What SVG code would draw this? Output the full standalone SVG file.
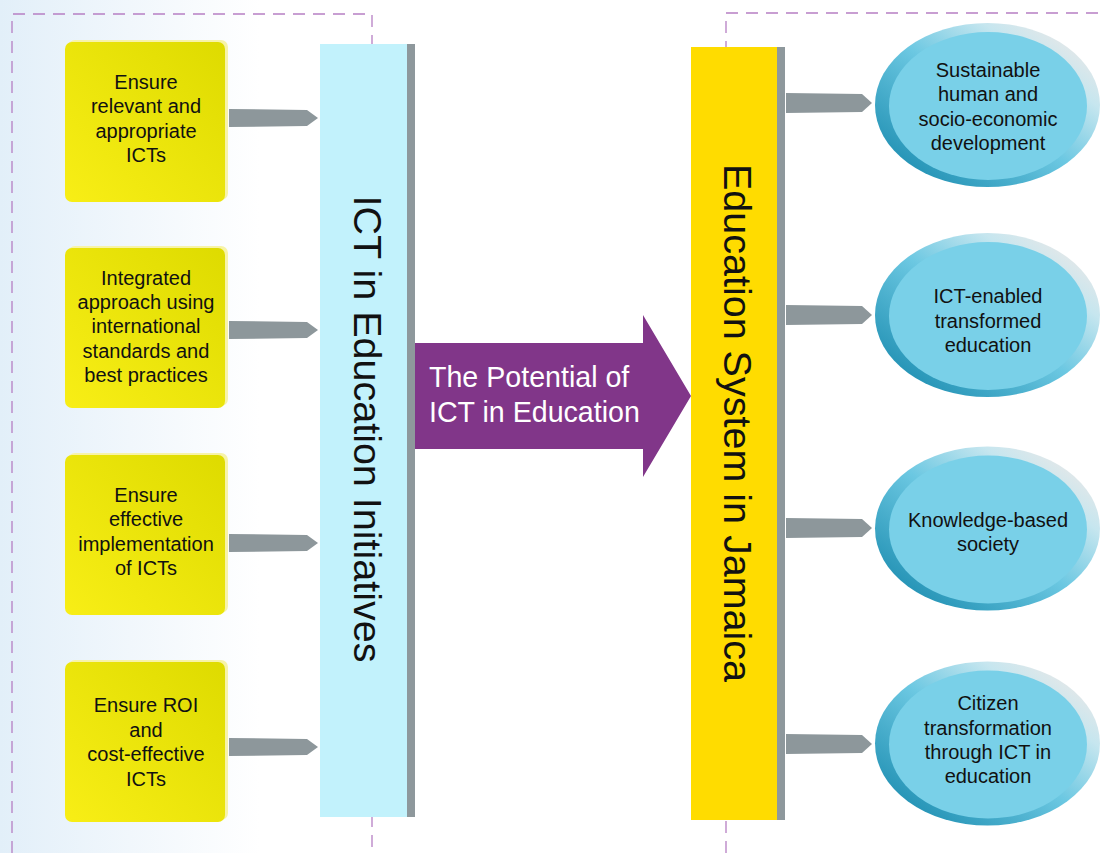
<svg xmlns="http://www.w3.org/2000/svg" width="1104" height="853" viewBox="0 0 1104 853">
<defs>
<linearGradient id="bg" x1="0" y1="0" x2="1" y2="0">
<stop offset="0" stop-color="#e2eff9"/>
<stop offset="0.5" stop-color="#f1f7fc"/>
<stop offset="1" stop-color="#ffffff"/>
</linearGradient>
<linearGradient id="ybox" x1="0" y1="1" x2="1" y2="0">
<stop offset="0" stop-color="#f8ee16"/>
<stop offset="1" stop-color="#dedb00"/>
</linearGradient>
<linearGradient id="ering" x1="0.1" y1="0.9" x2="0.9" y2="0.1">
<stop offset="0" stop-color="#1f8fb2"/>
<stop offset="0.5" stop-color="#6cc8e2"/>
<stop offset="0.8" stop-color="#c6e6ef"/>
<stop offset="1" stop-color="#e8e8e8"/>
</linearGradient>
<style>
.dash{fill:none;stroke:#b67fc4;stroke-width:1.3;stroke-dasharray:12 8}
.shadowbox{fill:#f7f3a8}
.ybox{fill:url(#ybox)}
.t{font-family:"Liberation Sans",Arial,sans-serif;font-size:20px;fill:#111;text-anchor:middle}
.big{font-family:"Liberation Sans",Arial,sans-serif;font-size:39.5px;fill:#111;text-anchor:middle}
.pt{font-family:"Liberation Sans",Arial,sans-serif;font-size:28.6px;fill:#fff}
.conn{fill:#8d979b}
.ering{fill:url(#ering)}
.einner{fill:#79d0e8}
</style>
</defs>
<rect x="0" y="0" width="1104" height="853" fill="#ffffff"/>
<rect x="0" y="0" width="260" height="853" fill="url(#bg)"/>

<g id="frames">
<path class="dash" d="M12,853 V14 H372 V853"/>
<path class="dash" d="M726,853 V13 H1104"/>
</g>

<g id="connectors">
<polygon class="conn" points="229,109 307,110 318,118 307,126 229,127"/>
<polygon class="conn" points="229,321 307,322 318,330 307,338 229,339"/>
<polygon class="conn" points="229,534 307,535 318,543 307,551 229,552"/>
<polygon class="conn" points="229,738 307,739 318,747 307,755 229,756"/>
<polygon class="conn" points="786,93 862,94 872,103 862,112 786,113"/>
<polygon class="conn" points="786,305 862,306 872,315 862,324 786,325"/>
<polygon class="conn" points="786,518 862,519 872,528 862,537 786,538"/>
<polygon class="conn" points="786,734 862,735 872,744 862,753 786,754"/>
</g>

<g id="box1">
<rect class="shadowbox" x="68" y="40" width="160" height="160" rx="7"/>
<rect class="ybox" x="65" y="42" width="160" height="160" rx="7"/>
<text class="t"><tspan x="146" y="89">Ensure</tspan><tspan x="146" y="113">relevant and</tspan><tspan x="146" y="138">appropriate</tspan><tspan x="146" y="162">ICTs</tspan></text>
</g>
<g id="box2">
<rect class="shadowbox" x="68" y="246" width="160" height="160" rx="7"/>
<rect class="ybox" x="65" y="248" width="160" height="160" rx="7"/>
<text class="t"><tspan x="146" y="285">Integrated</tspan><tspan x="146" y="309">approach using</tspan><tspan x="146" y="333">international</tspan><tspan x="146" y="358">standards and</tspan><tspan x="146" y="382">best practices</tspan></text>
</g>
<g id="box3">
<rect class="shadowbox" x="68" y="453" width="160" height="160" rx="7"/>
<rect class="ybox" x="65" y="455" width="160" height="160" rx="7"/>
<text class="t"><tspan x="146" y="502">Ensure</tspan><tspan x="146" y="526">effective</tspan><tspan x="146" y="551">implementation</tspan><tspan x="146" y="575">of ICTs</tspan></text>
</g>
<g id="box4">
<rect class="shadowbox" x="68" y="660" width="160" height="160" rx="7"/>
<rect class="ybox" x="65" y="662" width="160" height="160" rx="7"/>
<text class="t"><tspan x="146" y="712">Ensure ROI</tspan><tspan x="146" y="737">and</tspan><tspan x="146" y="761">cost-effective</tspan><tspan x="146" y="786">ICTs</tspan></text>
</g>

<g id="ict-bar">
<rect x="407" y="44" width="8" height="773" fill="#8e989c"/>
<rect x="320" y="44" width="87" height="773" fill="#c2f2fc"/>
<text class="big" transform="translate(354,429) rotate(90)" x="0" y="0">ICT in Education Initiatives</text>
</g>

<g id="potential-arrow">
<polygon points="415,343 643,343 643,315 691,396 643,477 643,449 415,449" fill="#813689"/>
<text class="pt"><tspan x="429" y="387">The Potential of</tspan><tspan x="429" y="422">ICT in Education</tspan></text>
</g>

<g id="edu-bar">
<rect x="777" y="47" width="8" height="773" fill="#8e989c"/>
<rect x="691" y="47" width="86" height="773" fill="#ffdc00"/>
<text class="big" transform="translate(724,423) rotate(90)" x="0" y="0">Education System in Jamaica</text>
</g>

<g id="outcome1">
<ellipse class="ering" cx="987.5" cy="105" rx="112.5" ry="82"/>
<ellipse class="einner" cx="988" cy="106" rx="99" ry="74"/>
<text class="t"><tspan x="988" y="77">Sustainable</tspan><tspan x="988" y="101">human and</tspan><tspan x="988" y="126">socio-economic</tspan><tspan x="988" y="150">development</tspan></text>
</g>
<g id="outcome2">
<ellipse class="ering" cx="987.5" cy="315" rx="112.5" ry="82"/>
<ellipse class="einner" cx="988" cy="316" rx="99" ry="74"/>
<text class="t"><tspan x="988" y="303">ICT-enabled</tspan><tspan x="988" y="328">transformed</tspan><tspan x="988" y="352">education</tspan></text>
</g>
<g id="outcome3">
<ellipse class="ering" cx="987.5" cy="528.5" rx="112.5" ry="82"/>
<ellipse class="einner" cx="988" cy="529.5" rx="99" ry="74"/>
<text class="t"><tspan x="988" y="527">Knowledge-based</tspan><tspan x="988" y="551">society</tspan></text>
</g>
<g id="outcome4">
<ellipse class="ering" cx="987.5" cy="743.5" rx="112.5" ry="82"/>
<ellipse class="einner" cx="988" cy="744.5" rx="99" ry="74"/>
<text class="t"><tspan x="988" y="710">Citizen</tspan><tspan x="988" y="735">transformation</tspan><tspan x="988" y="759">through ICT in</tspan><tspan x="988" y="783">education</tspan></text>
</g>
</svg>
